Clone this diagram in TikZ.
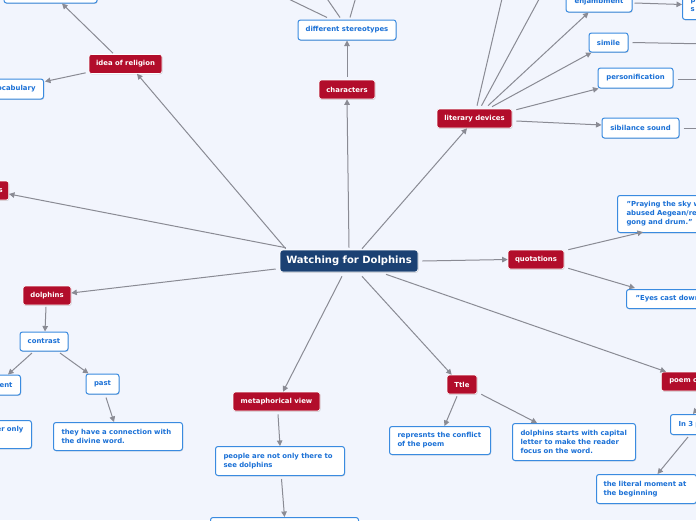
\documentclass[tikz,border=0pt]{standalone}
\usepackage{fontspec}
\setmainfont{DejaVu Sans}
\usetikzlibrary{arrows.meta,calc,shadows}
\definecolor{bgc}{HTML}{F2F5FD}
\definecolor{redc}{HTML}{B20D2B}
\definecolor{navy}{HTML}{1B4173}
\definecolor{bbord}{HTML}{3A8BE0}
\definecolor{btext}{HTML}{1A70D6}
\definecolor{gline}{HTML}{8A8B94}
\tikzset{
  shd/.style={drop shadow={shadow xshift=0.6pt,shadow yshift=-0.9pt,opacity=0.25,fill=black!60}},
  redbox/.style={shd,fill=redc,draw=white,line width=0.6pt,rounded corners=2.5pt,text=white,
    font=\fontsize{6.9}{9}\selectfont\bfseries,inner sep=0pt,minimum height=19pt},
  wbox/.style={shd,fill=white,draw=bbord,line width=1pt,rounded corners=2.5pt,text=btext,
    font=\fontsize{6.9}{9}\selectfont\bfseries,inner sep=0pt,minimum height=20pt},
  titlebox/.style={shd,fill=navy,draw=white,line width=0.6pt,rounded corners=3pt,text=white,
    font=\fontsize{10}{12}\selectfont\bfseries,inner sep=0pt,minimum height=22pt,minimum width=138pt},
  con/.style={draw=gline,line width=1pt,-{Triangle[length=5.5pt,width=5.5pt]}},
  conn/.style={draw=gline,line width=1pt}
}
\begin{document}
\begin{tikzpicture}[x=1pt,y=-1pt]
\useasboundingbox (0,0) rectangle (696,520);
\fill[bgc] (0,0) rectangle (696,520);
\clip (0,0) rectangle (696,520);

% central node
\node[titlebox] (c) at (349,261) {Watching for Dolphins};

% red nodes
\node[redbox,minimum width=73pt] (ir) at (125.5,64) {idea of religion};
\node[redbox,minimum width=56pt] (ch) at (347,89.5) {characters};
\node[redbox,minimum width=75pt] (ld) at (474.5,118.5) {literary devices};
\node[redbox,anchor=east,text width=60pt,inner xsep=6pt,align=right] (rs) at (9,190.5) {s};
\node[redbox,minimum width=48pt] (do) at (47,295.5) {dolphins};
\node[redbox,minimum width=87pt] (mv) at (276.5,401.5) {metaphorical view};
\node[redbox,minimum width=30pt] (tt) at (462,384.5) {Ttle};
\node[redbox,minimum width=56pt] (q) at (536,259.5) {quotations};
\node[redbox,anchor=west,text width=80pt,inner xsep=8pt,align=left] (pc) at (661,381.5) {poem c};

% white nodes
\node[wbox,minimum width=93pt,minimum height=15pt] (tl) at (50.5,-4.5) {};
\node[wbox,anchor=east,text width=70pt,inner xsep=8pt,align=right] (voc) at (44,89) {vocabulary};
\node[wbox,minimum width=98pt] (ds) at (347,30) {different stereotypes};
\node[wbox,minimum width=66pt] (en) at (599,2) {enjambment};
\node[wbox,anchor=north west,text width=60pt,inner xsep=8pt,minimum height=29pt,align=left] (pb) at (682,-10) {p\\s};
\node[wbox,minimum width=39pt,minimum height=19pt] (si) at (608.5,42.5) {simile};
\node[wbox,minimum width=75pt] (pe) at (635.5,78) {personification};
\node[wbox,minimum width=77pt] (sb) at (640.5,128) {sibilance sound};
\node[wbox,anchor=north west,text width=127pt,inner xsep=9pt,minimum height=37pt,align=left] (pr) at (617,195) {\mbox{"Praying the sky w}\\\mbox{abused Aegean/re}\\\mbox{gong and drum."}};
\node[wbox,anchor=north west,text width=120pt,inner xsep=9pt,minimum height=19pt,align=left] (ey) at (626,289) {\mbox{"Eyes cast down}};
\node[wbox,minimum width=48pt,minimum height=19pt] (co) at (44,341.5) {contrast};
\node[wbox,anchor=east,text width=52pt,inner xsep=8pt,align=right] (ent) at (21,385) {ent};
\node[wbox,minimum width=33pt] (pa) at (102.5,384) {past};
\node[wbox,anchor=north east,text width=84pt,inner xsep=8pt,minimum height=28pt,align=right] (eo) at (32,420) {er only\\\strut};
\node[wbox,anchor=north west,text width=113pt,inner xsep=8pt,minimum height=28pt,align=left] (th) at (53,422) {\mbox{they have a connection with}\\\mbox{the divine word.}};
\node[wbox,anchor=north west,text width=113pt,inner xsep=8pt,minimum height=29pt,align=left] (pp) at (215,446) {\mbox{people are not only there to}\\\mbox{see dolphins}};
\node[wbox,anchor=north west,minimum width=148pt,minimum height=20pt] (bb) at (210,517) {};
\node[wbox,anchor=north west,text width=85pt,inner xsep=8pt,minimum height=28pt,align=left] (rp) at (389,426) {\mbox{represnts the conflict}\\\mbox{of the poem}};
\node[wbox,anchor=north west,text width=107pt,inner xsep=8pt,minimum height=37pt,align=left] (dsc) at (512,423) {\mbox{dolphins starts with capital}\\\mbox{letter to make the reader}\\\mbox{focus on the word.}};
\node[wbox,anchor=north west,text width=70pt,inner xsep=8pt,minimum height=20pt,align=left] (in3) at (670,414) {In 3 p};
\node[wbox,anchor=north west,text width=86pt,inner xsep=7pt,minimum height=29pt,align=left] (lm) at (596,474) {\mbox{the literal moment at}\\\mbox{the beginning}};

% off-canvas ends
\coordinate (u1) at (270,-10);
\coordinate (u2) at (321,-10);
\coordinate (u3) at (358,-10);
\coordinate (v1) at (504,-10);
\coordinate (v2) at (544,-10);
\coordinate (w1) at (710,44);
\coordinate (w2) at (710,79);
\coordinate (w3) at (710,128);

% connectors from centre
\draw[con] ($(c.north west)+(6,-1)$) -- ($(ir.south)+(11.5,0)$);
\draw[con] ($(c.north west)+(6,-2)$) -- ($(rs.east)+(0,3.5)$);
\draw[con] ($(c.north)+(0,-2)$) -- (ch.south);
\draw[con] ($(c.north)+(13,-1)$) -- ($(ld.south)+(-7.5,0)$);
\draw[con] ($(c.east)+(4,0)$) -- (q.west);
\draw[con] ($(c.south)+(37,2)$) -- ($(pc.north west)+(5,0)$);
\draw[con] ($(c.south)+(13,4)$) -- ($(tt.north west)+(5,0)$);
\draw[con] ($(c.south)+(-7,4)$) -- ($(mv.north)+(6.5,0)$);
\draw[con] ($(c.west)+(-4,8)$) -- ($(do.east)+(0,-2.5)$);

% idea of religion
\draw[con] ($(ir.north)+(-12.5,-1)$) -- ($(tl.south)+(11.5,0)$);
\draw[con] ($(ir.south west)+(-3,-1)$) -- ($(voc.north east)+(1,3)$);

% characters
\draw[con] ($(ch.north)+(0,-3)$) -- (ds.south);
\draw[conn] ($(ds.north)+(-20,-2)$) -- (u1);
\draw[conn] ($(ds.north)+(-7,-2)$) -- (u2);
\draw[conn] ($(ds.north)+(3,-2)$) -- (u3);

% literary devices
\draw[conn] ($(ld.north)+(2.5,-3)$) -- (v1);
\draw[conn] ($(ld.north)+(7,-3)$) -- (v2);
\draw[con] ($(ld.north)+(13.5,-3)$) -- ($(en.south west)+(23,0)$);
\draw[con] ($(ld.north)+(17.5,-2)$) -- ($(si.south west)+(3,0)$);
\draw[con] ($(ld.north east)+(4,1)$) -- ($(pe.south west)+(1,0)$);
\draw[con] ($(ld.east)+(4,2.5)$) -- ($(sb.west)+(0,-3)$);
\draw[con] ($(en.east)+(2,1)$) -- ($(pb.west)+(0,-0.5)$);
\draw[conn] ($(si.east)+(4,0)$) -- (w1);
\draw[conn] ($(pe.east)+(4,1)$) -- (w2);
\draw[conn] ($(sb.east)+(4,0)$) -- (w3);

% quotations
\draw[con] ($(q.north east)+(4,0)$) -- ($(pr.south west)+(26,-1)$);
\draw[con] ($(q.south east)+(4,-1)$) -- ($(ey.north west)+(9,-1)$);

% poem c
\draw[con] ($(pc.south)+(-2,5)$) -- ($(in3.north west)+(23,0)$);
\draw[con] ($(in3.south west)+(18,2)$) -- ($(lm.north)+(11,0)$);

% Ttle
\draw[con] ($(tt.south)+(-5,2)$) -- ($(rp.north)+(4.5,0)$);
\draw[con] ($(tt.south east)+(4,0)$) -- ($(dsc.north west)+(25,0)$);

% metaphorical view
\draw[con] ($(mv.south)+(1.5,3)$) -- (pp.north);
\draw[con] ($(pp.south)+(1.5,3)$) -- (bb.north);

% dolphins
\draw[con] ($(do.south)+(-1,1.5)$) -- ($(co.north)+(1,0)$);
\draw[con] ($(co.south)+(-12,1.5)$) -- ($(ent.north east)+(-13,0)$);
\draw[con] ($(co.south)+(16,1.5)$) -- ($(pa.north west)+(3,0)$);
\draw[con] ($(pa.south)+(3.5,3)$) -- ($(th.north)+(-4,0)$);
\end{tikzpicture}
\end{document}
